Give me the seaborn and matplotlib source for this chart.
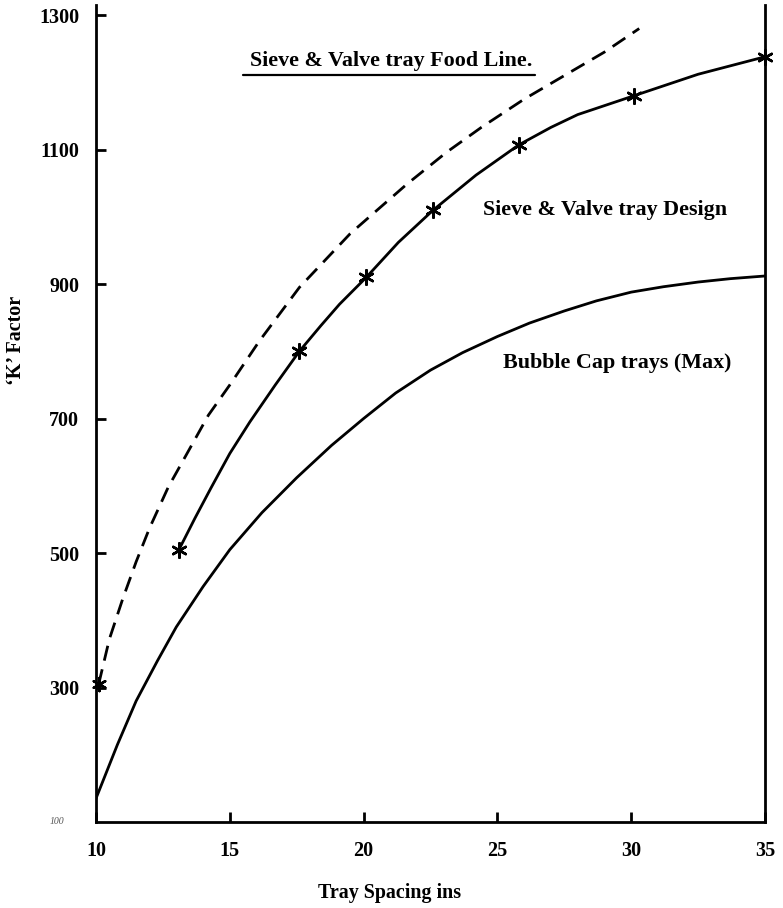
import matplotlib
matplotlib.use("Agg")
import matplotlib.pyplot as plt
import seaborn as sns
import pandas as pd
from matplotlib.lines import Line2D

# ---- data ----
food_x = [10.1, 10.5, 11.0, 11.5, 12.0, 12.7, 13.5, 14.2, 15.0, 16.1, 17.6, 19.5, 21.6,
          23.1, 24.4, 26.0, 27.5, 29.0, 30.3]
food_y = [305, 372, 432, 487, 537, 598, 655, 705, 750, 815, 895, 975, 1048,
          1096, 1133, 1175, 1210, 1245, 1280]

design_x = [13.1, 13.7, 14.3, 15.0, 15.75, 16.7, 17.6, 18.4, 19.1, 20.1, 21.3, 22.6,
            24.2, 25.8, 27.0, 28.0, 30.1, 32.5, 35.0]
design_y = [505, 552, 597, 648, 695, 750, 800, 838, 870, 910, 962, 1010,
            1062, 1107, 1133, 1152, 1180, 1212, 1238]
design_mark_x = [13.1, 17.6, 20.1, 22.6, 25.8, 30.1, 35.0]
design_mark_y = [505, 800, 910, 1010, 1107, 1180, 1238]

bubble_x = [10.0, 10.8, 11.5, 12.3, 13.0, 14.0, 15.0, 16.2, 17.5, 18.8, 20.0, 21.2,
            22.5, 23.7, 25.0, 26.2, 27.5, 28.7, 30.0, 31.2, 32.5, 33.7, 35.0]
bubble_y = [135, 215, 280, 340, 390, 450, 505, 560, 612, 660, 700, 738,
            772, 798, 822, 842, 860, 875, 888, 896, 903, 908, 912]

x_ticks = [10, 15, 20, 25, 30, 35]
y_ticks = [300, 500, 700, 900, 1100, 1300]
y_tick_labels = ["300", "500", "700", "900", "1100", "1300"]

label_food = "Sieve & Valve tray Food Line."
label_design = "Sieve & Valve tray Design"
label_bubble = "Bubble Cap trays (Max)"
x_title = "Tray Spacing ins"
y_title = "\u2018K\u2019 Factor"

# ---- style ----
sns.set_theme(style="white")
plt.rcParams["font.family"] = ["Liberation Serif", "DejaVu Serif"]
plt.rcParams["font.weight"] = "bold"
plt.rcParams["text.color"] = "black"

fig = plt.figure(figsize=(7.83, 9.08), dpi=100)
ax = fig.add_axes([96 / 783, (908 - 822) / 908, (765 - 96) / 783, (822 - 5) / 908])

df_food = pd.DataFrame({"x": food_x, "y": food_y})
df_design = pd.DataFrame({"x": design_x, "y": design_y})
df_mark = pd.DataFrame({"x": design_mark_x, "y": design_mark_y})
df_bubble = pd.DataFrame({"x": bubble_x, "y": bubble_y})

sns.lineplot(data=df_food, x="x", y="y", ax=ax, color="black", lw=2.0,
             linestyle=(0, (5.5, 3.2)), sort=False, estimator=None)
sns.scatterplot(data=df_food.iloc[:1], x="x", y="y", ax=ax, color="black",
                marker=(6, 2, 0), s=90, linewidth=1.8, edgecolor="black", clip_on=False)
sns.lineplot(data=df_design, x="x", y="y", ax=ax, color="black", lw=2.0,
             sort=False, estimator=None)
sns.scatterplot(data=df_mark, x="x", y="y", ax=ax, color="black",
                marker=(6, 2, 0), s=110, linewidth=1.8, edgecolor="black", clip_on=False)
sns.lineplot(data=df_bubble, x="x", y="y", ax=ax, color="black", lw=2.0,
             sort=False, estimator=None)

ax.set_xlim(10, 35)
ax.set_ylim(100, 1315)

for s in ["left", "bottom", "right"]:
    ax.spines[s].set_visible(True)
    ax.spines[s].set_color("black")
    ax.spines[s].set_linewidth(2.0)
ax.spines["top"].set_visible(False)

ax.set_xticks(x_ticks)
ax.set_xticklabels([str(t) for t in x_ticks])
ax.set_yticks(y_ticks)
ax.set_yticklabels(y_tick_labels)
ax.tick_params(axis="both", direction="in", length=7, width=2, colors="black",
               labelsize=14.5, left=True, bottom=True, right=False)
ax.tick_params(axis="y", pad=12)
ax.tick_params(axis="x", pad=14)
for lab in ax.get_xticklabels() + ax.get_yticklabels():
    lab.set_fontweight("bold")

ax.set_xlabel("")
ax.set_ylabel("")
fig.text(390 / 783, 1 - 893 / 908, x_title, fontsize=14.4, fontweight="bold",
         ha="center", va="center", color="black")
fig.text(16 / 783, 1 - 340 / 908, y_title, fontsize=14.4, fontweight="bold",
         ha="center", va="center", rotation=90, color="black")

# faint scan mark for the "100" origin label
ax.text(-0.058, 0.0, "100", transform=ax.transAxes, fontsize=7, style="italic",
        color="#555555", ha="center", va="center", fontweight="normal")

# curve annotations
ax.text(15.75, 1232, label_food, fontsize=15.8, fontweight="bold", ha="left",
        va="center", color="black")
ax.add_line(Line2D([(243 - 96) / 669, (535 - 96) / 669], [1 - (75 - 5) / 817] * 2,
                   transform=ax.transAxes, color="black", lw=1.6))
ax.text(24.46, 1010, label_design, fontsize=15.8, fontweight="bold", ha="left",
        va="center", color="black")
ax.text(25.2, 782, label_bubble, fontsize=15.8, fontweight="bold", ha="left",
        va="center", color="black")

ax.grid(False)
fig.savefig("out.png", dpi=100)
